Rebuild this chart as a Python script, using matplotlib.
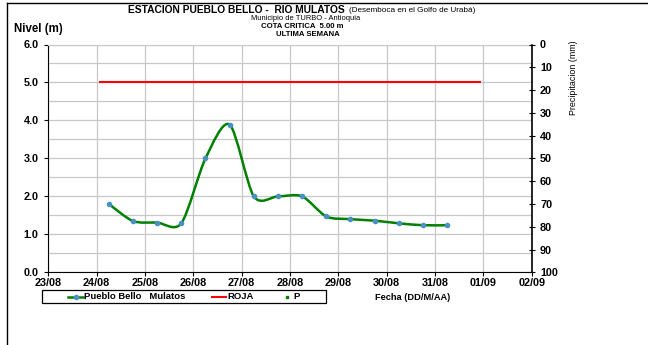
import numpy as np
import matplotlib
matplotlib.use("Agg")
import matplotlib.pyplot as plt
import matplotlib.dates as mdates
from matplotlib.path import Path
from matplotlib.patches import PathPatch, Rectangle
from matplotlib.lines import Line2D

plt.rcParams['font.family'] = ['Liberation Sans', 'DejaVu Sans']

# nivel del rio (m), cada 12 horas
fechas = ["2010-08-24T06:00", "2010-08-24T18:00", "2010-08-25T06:00", "2010-08-25T18:00",
          "2010-08-26T06:00", "2010-08-26T18:00", "2010-08-27T06:00", "2010-08-27T18:00",
          "2010-08-28T06:00", "2010-08-28T18:00", "2010-08-29T06:00", "2010-08-29T18:00",
          "2010-08-30T06:00", "2010-08-30T18:00", "2010-08-31T06:00"]
nivel = [1.80, 1.35, 1.31, 1.29, 3.00, 3.89, 2.00, 2.00, 2.00, 1.47, 1.40, 1.36, 1.29, 1.24, 1.24]

roja_fechas = ["2010-08-24T01:40", "2010-08-31T22:20"]
roja_nivel = [5.0, 5.0]

tick_fechas = ["2010-08-23", "2010-08-24", "2010-08-25", "2010-08-26", "2010-08-27", "2010-08-28",
               "2010-08-29", "2010-08-30", "2010-08-31", "2010-09-01", "2010-09-02"]

x = mdates.date2num(np.array(fechas, dtype="datetime64[m]"))
y = np.array(nivel)
xr = mdates.date2num(np.array(roja_fechas, dtype="datetime64[m]"))
xt = mdates.date2num(np.array(tick_fechas, dtype="datetime64[m]"))

W, H = 648, 345
fig = plt.figure(figsize=(6.48, 3.45), dpi=100)
ax = fig.add_axes([48.4 / W, 1 - 272.3 / H, (531.7 - 48.4) / W, (272.3 - 44.5) / H])

grid_c = "#c8c8c8"
ax.set_xlim(xt[0], xt[-1])
ax.set_ylim(0, 6)
ax.set_xticks(xt)
ax.xaxis.set_major_formatter(mdates.DateFormatter("%d/%m"))
ax.set_yticks(np.arange(0, 6.01, 1.0))
ax.set_yticks(np.arange(0.5, 6, 1.0), minor=True)
ax.yaxis.set_major_formatter(plt.FormatStrFormatter("%.1f"))
ax.grid(True, which="both", color=grid_c, lw=0.9)
ax.tick_params(axis="both", which="major", direction="out", length=3, width=0.8, labelsize=7.8)
ax.tick_params(axis="x", pad=0.8)
ax.tick_params(axis="y", pad=4)
ax.tick_params(axis="y", which="minor", length=0)
for lab in ax.get_xticklabels() + ax.get_yticklabels():
    lab.set_fontweight("bold")
ax.spines["top"].set_color(grid_c)
ax.spines["right"].set_visible(False)
ax.set_axisbelow(True)

# linea suavizada (Bezier tipo Excel)
k = 0.14
verts = [(x[0], y[0])]
codes = [Path.MOVETO]
n = len(x)
for i in range(n - 1):
    p0 = np.array([x[max(i - 1, 0)], y[max(i - 1, 0)]])
    p1 = np.array([x[i], y[i]])
    p2 = np.array([x[i + 1], y[i + 1]])
    p3 = np.array([x[min(i + 2, n - 1)], y[min(i + 2, n - 1)]])
    c1 = p1 + (p2 - p0) * k
    c2 = p2 - (p3 - p1) * k
    verts += [tuple(c1), tuple(c2), tuple(p2)]
    codes += [Path.CURVE4] * 3
ax.add_patch(PathPatch(Path(verts, codes), fill=False, edgecolor="#008000", lw=1.8, zorder=3))
ax.plot(x, y, ls="none", marker="o", ms=3, color="#4a90c0", zorder=4)

ax.plot(xr, roja_nivel, color="#ff0000", lw=1.5, zorder=3)

ax2 = ax.twinx()
ax2.set_ylim(100, 0)
ax2.set_yticks(np.arange(0, 101, 10))
ax2.tick_params(axis="y", direction="inout", length=4, width=0.8, labelsize=7.8, pad=4)
for lab in ax2.get_yticklabels():
    lab.set_fontweight("bold")
for s in ["top", "left", "bottom"]:
    ax2.spines[s].set_visible(False)
ax2.spines["right"].set_linewidth(1.2)
ax2.set_ylabel("Precipitacion (mm)", fontsize=6.4)
ax2.yaxis.set_label_coords(1.077, 0.855)

# titulos
fig.text(345 / W, 1 - 10 / H, "ESTACION PUEBLO BELLO -  RIO MULATOS", ha="right", va="center",
         fontsize=7.4, fontweight="bold")
fig.text(349 / W, 1 - 10 / H, "(Desemboca en el Golfo de Urabá)", ha="left", va="center",
         fontsize=5.9)
fig.text(306 / W, 1 - 18.5 / H, "Municipio de TURBO - Antioquia", ha="center", va="center", fontsize=5.4)
fig.text(302 / W, 1 - 27 / H, "COTA CRITICA  5.00 m", ha="center", va="center",
         fontsize=5.6, fontweight="bold")
fig.text(308 / W, 1 - 35 / H, "ULTIMA SEMANA", ha="center", va="center",
         fontsize=5.6, fontweight="bold")
fig.text(14 / W, 1 - 29 / H, "Nivel (m)", ha="left", va="center", fontsize=8.3, fontweight="bold")
fig.text(375 / W, 1 - 297 / H, "Fecha (DD/M/AA)", ha="left", va="center",
         fontsize=6.7, fontweight="bold")
fig.text(19 / W, 1 + 5 / H, "g", ha="left", va="baseline", fontsize=9, fontweight="bold")

# leyenda (dibujada a mano)
ly = 1 - 296.7 / H
fig.add_artist(Rectangle((42.3 / W, 1 - 303.3 / H), (326 - 42.3) / W, 13 / H, transform=fig.transFigure,
                         fill=False, edgecolor="black", lw=0.9))
fig.add_artist(Line2D([68 / W, 83 / W], [ly, ly], color="#008000", lw=1.8))
fig.add_artist(Line2D([75.5 / W], [ly], ls="none", marker="o", ms=3, color="#4a90c0"))
fig.text(84 / W, ly, "Pueblo Bello   Mulatos", ha="left", va="center", fontsize=6.8, fontweight="bold")
fig.add_artist(Line2D([212 / W, 226 / W], [ly, ly], color="#ff0000", lw=1.5))
fig.text(227 / W, ly, "ROJA", ha="left", va="center", fontsize=6.8, fontweight="bold")
fig.add_artist(Line2D([287 / W], [ly], ls="none", marker="s", ms=1.5, color="#008000"))
fig.text(293 / W, ly, "P", ha="left", va="center", fontsize=6.8, fontweight="bold")

# marco de la figura
fig.add_artist(Line2D([7 / W, 1], [1 - 3 / H, 1 - 3 / H], color="black", lw=1))
fig.add_artist(Line2D([7 / W, 7 / W], [0, 1 - 3 / H], color="black", lw=1))

fig.savefig("out.png", dpi=100)
